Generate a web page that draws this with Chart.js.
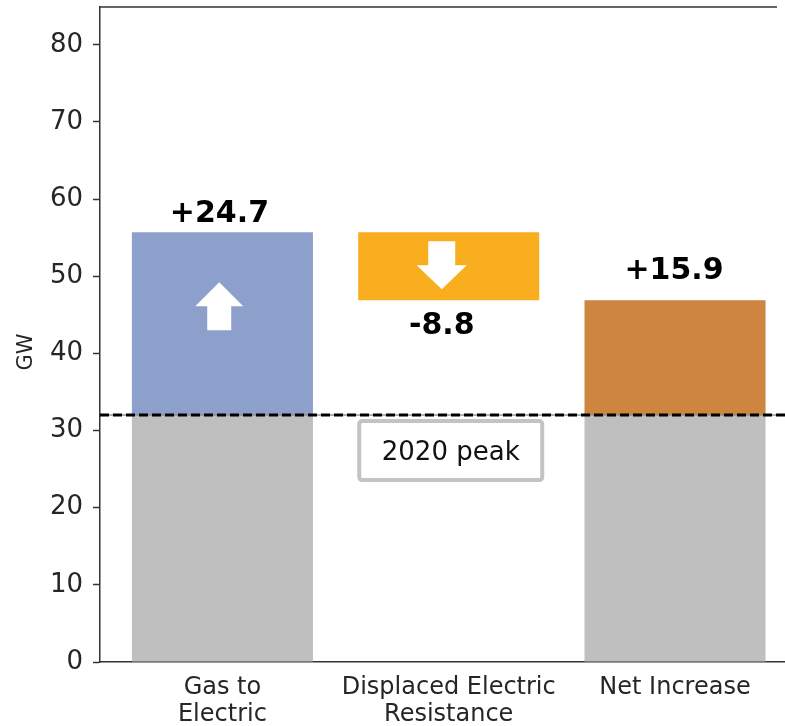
<!DOCTYPE html>
<html><head><meta charset="utf-8">
<script src="https://cdn.jsdelivr.net/npm/chart.js@4.4.1/dist/chart.umd.min.js"></script>
<style>html,body{margin:0;padding:0;background:#fff;overflow:hidden}#wrap{width:785px;height:726px;position:relative}</style>
</head><body><div id="wrap"><canvas id="c"></canvas></div>
<script>
// ---- data ----
const categories = ['Gas to\nElectric', 'Displaced Electric\nResistance', 'Net Increase'];
const baseValues = [32, null, 32];           // 2020 peak base (gray)
const changeStart = [32, 46.9, 32];
const changeEnd = [55.7, 55.7, 46.9];
const changeLabels = ['+24.7', '-8.8', '+15.9'];
const changeDirection = ['up', 'down', 'up'];
const peakValue = 32;
const peakLabel = '2020 peak';
const yTicks = [0, 10, 20, 30, 40, 50, 60, 70, 80];
const yLabel = 'GW';

// ---- styles ----
const changeColors = ['#8da0cb', '#f8ae1e', '#cd853f'];
const baseColor = '#bfbfbf';
const labelDx = [-3, -7, -1];
const labelGap = [10, 12, 21];
const FONT = '"DejaVu Sans", sans-serif';
Chart.defaults.font.family = FONT;

const overlay = {
  id: 'overlay',
  afterDatasetsDraw(chart) {
    const { ctx, chartArea: a, scales: { x, y } } = chart;
    ctx.save();
    // peak line
    const py = y.getPixelForValue(peakValue);
    ctx.strokeStyle = 'rgba(140,140,140,0.7)';
    ctx.lineWidth = 2;
    ctx.beginPath(); ctx.moveTo(a.left, py); ctx.lineTo(a.right, py); ctx.stroke();
    ctx.setLineDash([9, 4]);
    ctx.strokeStyle = '#000';
    ctx.lineWidth = 3;
    ctx.beginPath(); ctx.moveTo(a.left, py); ctx.lineTo(a.right, py); ctx.stroke();
    ctx.setLineDash([]);

    // 2020 peak box under middle category
    const bx = x.getPixelForValue(1) + 2;
    const bw = 183, bh = 59;
    const bTop = py + 6;
    ctx.fillStyle = '#fff';
    ctx.strokeStyle = '#c3c3c3';
    ctx.lineWidth = 4;
    ctx.beginPath();
    ctx.roundRect(bx - bw / 2, bTop, bw, bh, 3);
    ctx.fill(); ctx.stroke();
    ctx.fillStyle = '#111';
    ctx.font = '26px ' + FONT;
    ctx.textAlign = 'center';
    ctx.textBaseline = 'alphabetic';
    ctx.fillText(peakLabel, bx, bTop + 39);

    // arrows and labels
    const meta = chart.getDatasetMeta(1);
    meta.data.forEach((bar, i) => {
      const cx = bar.x;
      const top = y.getPixelForValue(changeEnd[i]);
      const bot = y.getPixelForValue(changeStart[i]);
      ctx.fillStyle = '#fff';
      if (changeDirection[i] === 'up' && i === 0) {
        const ax = cx - 3.2;
        ctx.beginPath();
        ctx.moveTo(ax, top + 50);
        ctx.lineTo(ax + 24, top + 74);
        ctx.lineTo(ax + 12, top + 74);
        ctx.lineTo(ax + 12, top + 98);
        ctx.lineTo(ax - 12, top + 98);
        ctx.lineTo(ax - 12, top + 74);
        ctx.lineTo(ax - 24, top + 74);
        ctx.closePath(); ctx.fill();
      } else if (changeDirection[i] === 'down') {
        const ax = cx - 7;
        ctx.beginPath();
        ctx.moveTo(ax - 13.5, top + 9);
        ctx.lineTo(ax + 13.5, top + 9);
        ctx.lineTo(ax + 13.5, top + 33);
        ctx.lineTo(ax + 25, top + 33);
        ctx.lineTo(ax, top + 57);
        ctx.lineTo(ax - 25, top + 33);
        ctx.lineTo(ax - 13.5, top + 33);
        ctx.closePath(); ctx.fill();
      }
      ctx.fillStyle = '#000';
      ctx.font = 'bold 30px ' + FONT;
      ctx.textAlign = 'center';
      ctx.textBaseline = 'alphabetic';
      if (changeDirection[i] === 'up') {
        ctx.fillText(changeLabels[i], cx + labelDx[i], top - labelGap[i]);
      } else {
        ctx.fillText(changeLabels[i], cx + labelDx[i], bot + 22 + labelGap[i]);
      }
    });

    // top spine
    ctx.strokeStyle = '#333';
    ctx.lineWidth = 1.5;
    ctx.beginPath(); ctx.moveTo(a.left, a.top); ctx.lineTo(777, a.top); ctx.stroke();

    // y axis title
    ctx.save();
    ctx.translate(27, 352);
    ctx.rotate(-Math.PI / 2);
    ctx.fillStyle = '#262626';
    ctx.font = '21px ' + FONT;
    ctx.textAlign = 'center';
    ctx.textBaseline = 'middle';
    ctx.fillText(yLabel, 0, 0);
    ctx.restore();
    ctx.restore();
  }
};

new Chart(document.getElementById('c'), {
  type: 'bar',
  data: {
    datasets: [
      {
        label: '2020 peak',
        data: categories.map((c, i) => baseValues[i] == null ? null : { x: i, y: [0, baseValues[i]] }).filter(Boolean),
        backgroundColor: baseColor,
        grouped: false,
        barPercentage: 0.8,
        categoryPercentage: 1,
        borderWidth: 0
      },
      {
        label: 'change',
        data: categories.map((c, i) => ({ x: i, y: [changeStart[i], changeEnd[i]] })),
        backgroundColor: changeColors,
        grouped: false,
        barPercentage: 0.8,
        categoryPercentage: 1,
        borderWidth: 0
      }
    ]
  },
  options: {
    responsive: true,
    maintainAspectRatio: false,
    animation: false,
    devicePixelRatio: 1,
    layout: { padding: { top: 7, left: 0, right: 0, bottom: 0 } },
    plugins: { legend: { display: false }, tooltip: { enabled: false } },
    scales: {
      x: {
        type: 'linear',
        min: -0.541,
        max: 2.486,
        offset: false,
        grid: { display: false, offset: false },
        border: { display: true, color: '#333', width: 1.5 },
        ticks: {
          autoSkip: false,
          maxRotation: 0,
          padding: 5,
          color: '#262626',
          font: { family: FONT, size: 24, lineHeight: 1.1 },
          callback: v => categories[v] ? categories[v].split('\n') : ''
        },
        afterBuildTicks: s => { s.ticks = categories.map((c, i) => ({ value: i })); },
        afterFit: s => { s.height = 64; s.paddingLeft = 0; s.paddingRight = 0; }
      },
      y: {
        type: 'linear',
        min: 0,
        max: 84.9,
        grid: { display: true, drawOnChartArea: false, drawTicks: true, tickLength: 7, tickColor: '#333', tickWidth: 1.5 },
        border: { display: true, color: '#333', width: 1.5 },
        ticks: { padding: 10, color: '#262626', font: { family: FONT, size: 26 } },
        afterBuildTicks: s => { s.ticks = yTicks.map(v => ({ value: v })); },
        afterFit: s => { s.width = 100; s.paddingTop = 0; s.paddingBottom = 0; }
      }
    }
  },
  plugins: [overlay]
});
</script>
</body></html>
